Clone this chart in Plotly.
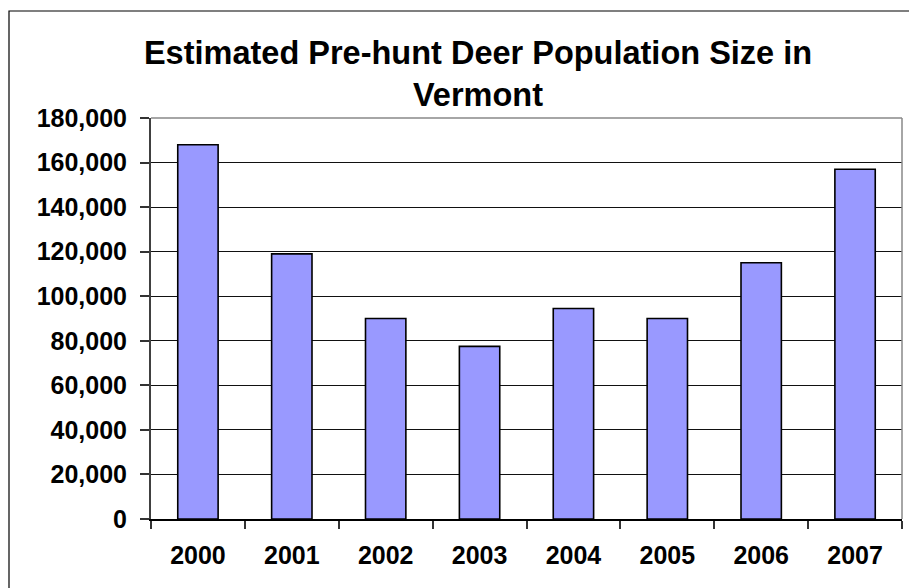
import plotly.graph_objects as go

years = ["2000", "2001", "2002", "2003", "2004", "2005", "2006", "2007"]
population = [168000, 119000, 90000, 77500, 94500, 90000, 115000, 157000]
y_ticks = [0, 20000, 40000, 60000, 80000, 100000, 120000, 140000, 160000, 180000]
title_text = "Estimated Pre-hunt Deer Population Size in<br>Vermont"

W, H = 909, 588
L, R, T, B = 151, 7, 118, 69
pw, ph = W - L - R, H - T - B

font_family = "Liberation Sans, Arial, sans-serif"

fig = go.Figure(go.Bar(
    x=years, y=population,
    marker=dict(color="#9999FF", line=dict(color="#000000", width=1.6)),
    width=0.43,
))

fig.update_layout(
    width=W, height=H,
    margin=dict(l=L, r=R, t=T, b=B, autoexpand=False),
    paper_bgcolor="white", plot_bgcolor="white",
    showlegend=False,
    title=dict(text=title_text, x=478 / W, xanchor="center", xref="container",
               y=1 - 64 / H, yanchor="middle", yref="container",
               font=dict(family=font_family, size=32.5, color="black", weight="bold")),
    font=dict(family=font_family, color="black"),
    xaxis=dict(type="category", tickson="boundaries", ticks="outside", ticklen=8,
               tickcolor="#333333", tickwidth=1.5,
               showline=True, linecolor="#000000", linewidth=1.5,
               showgrid=False, ticklabelstandoff=13,
               tickfont=dict(size=25, family=font_family, weight="bold", color="black")),
    yaxis=dict(range=[0, 180000], tickvals=y_ticks, tickformat=",",
               ticks="outside", ticklen=9, tickcolor="#333333", tickwidth=1.5,
               showline=True, linecolor="#404040", linewidth=2,
               showgrid=True, gridcolor="#111111", gridwidth=1,
               zeroline=False, ticklabelstandoff=8,
               tickfont=dict(size=25, family=font_family, weight="bold", color="black")),
    shapes=[
        dict(type="line", xref="paper", yref="paper", x0=0, x1=1, y0=1, y1=1,
             line=dict(color="#888888", width=1.5), layer="above"),
        dict(type="line", xref="paper", yref="paper", x0=1, x1=1, y0=0, y1=1,
             line=dict(color="#888888", width=1.5), layer="above"),
        dict(type="rect", xref="paper", yref="paper",
             x0=(9 - L) / pw, x1=(W + 20 - L) / pw,
             y0=-(B + 20) / ph, y1=(H - B - 11) / ph,
             line=dict(color="black", width=1.2), fillcolor="rgba(0,0,0,0)", layer="above"),
    ],
)

fig.write_html("out.html")
